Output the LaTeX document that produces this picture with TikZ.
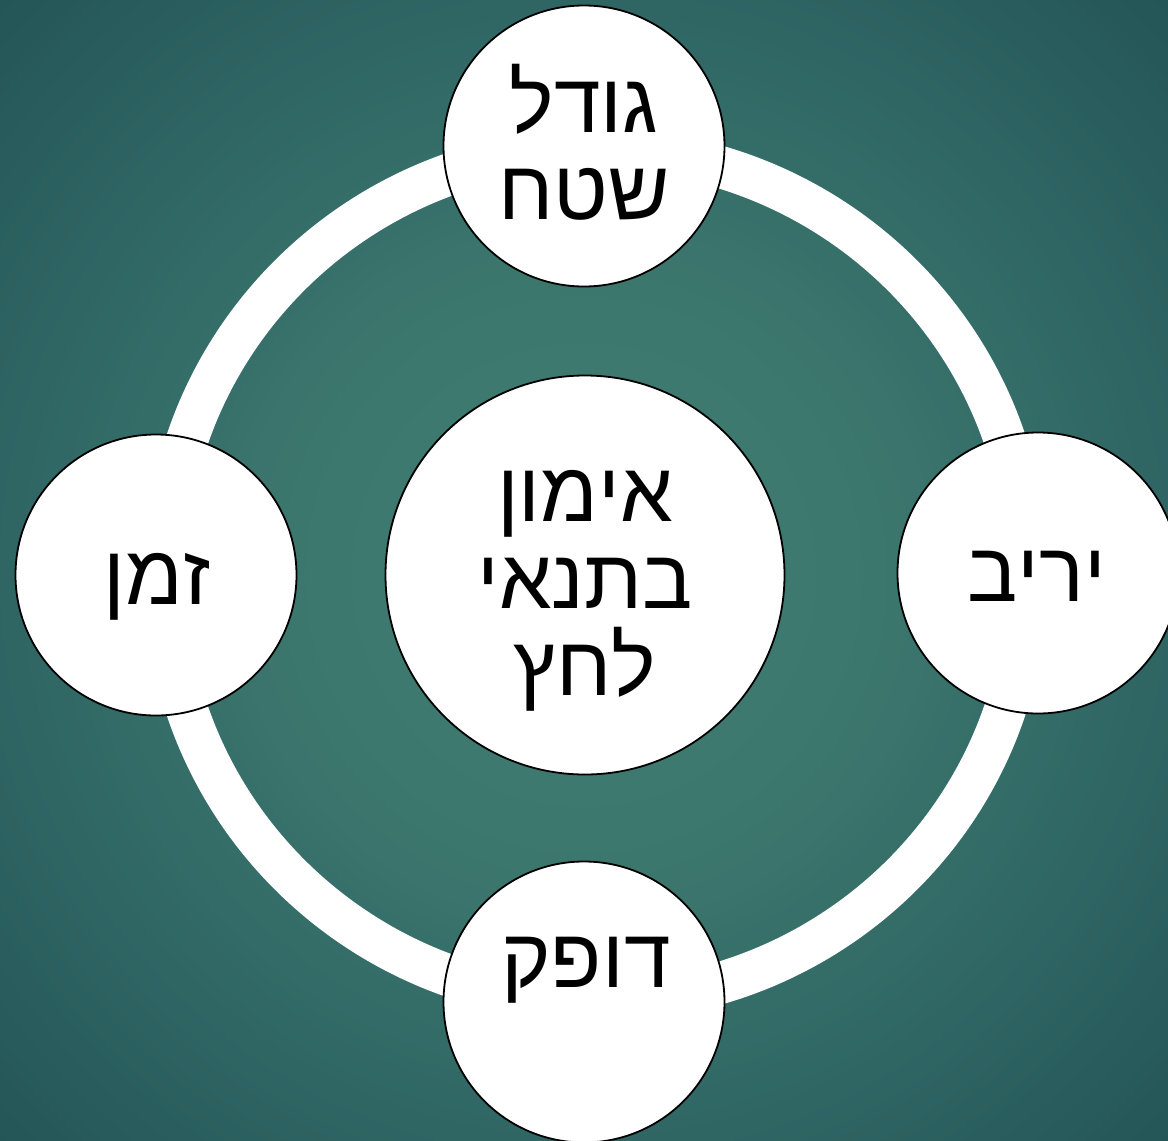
\documentclass[tikz,border=0pt]{standalone}
\usepackage{fontspec}
\setmainfont{Liberation Sans}
\TeXXeTstate=1
\definecolor{bgin}{RGB}{63,124,114}
\definecolor{bgnear}{RGB}{61,120,110}
\definecolor{bgmid}{RGB}{47,102,100}
\definecolor{bgout}{RGB}{36,85,87}
\begin{document}
\begin{tikzpicture}[x=1pt,y=-1pt,
  bubble/.style={circle, draw=black, line width=1.8pt, fill=white, inner sep=0pt},
  sat/.style={bubble, minimum size=281pt},
  hub/.style={bubble, minimum size=399pt},
  heb/.style={inner sep=0pt, font=\fontsize{84}{87}\selectfont, align=center, text=black},
  ringline/.style={draw=white, line width=42pt}]
\useasboundingbox (0,0) rectangle (1168,1141);
\begin{scope}
  \clip (0,0) rectangle (1168,1141);
  \coordinate (bgc) at (584,575);
  \fill[bgout] (0,0) rectangle (1168,1141);
  \foreach \s in {0,...,23} {
    \pgfmathsetmacro{\rr}{830-(830-574)*\s/24}
    \pgfmathsetmacro{\pp}{100-100*\s/24}
    \fill[bgout!\pp!bgmid] (bgc) circle [radius=\rr pt];
  }
  \foreach \s in {0,...,23} {
    \pgfmathsetmacro{\rr}{574-(574-279)*\s/24}
    \pgfmathsetmacro{\pp}{100-100*\s/24}
    \fill[bgmid!\pp!bgnear] (bgc) circle [radius=\rr pt];
  }
  \foreach \s in {0,...,11} {
    \pgfmathsetmacro{\rr}{279-279*\s/12}
    \pgfmathsetmacro{\pp}{100-100*\s/12}
    \fill[bgnear!\pp!bgin] (bgc) circle [radius=\rr pt];
  }
\end{scope}
\coordinate (ringc) at (596,575);
\draw[ringline] (ringc) ellipse [x radius=431pt, y radius=426pt];
\node[hub] (hub) at (585,575) {};
\node[sat] (top) at (584,146) {};
\node[sat] (bottom) at (584,1002) {};
\node[sat] (left) at (156,575) {};
\node[sat] (right) at (1038,573) {};
\node[heb] (thub) at (585,591) {\beginR אימון\endR\\\beginR בתנאי\endR\\\beginR לחץ\endR};
\node[heb] (ttop) at (584,142) {\beginR גודל\endR\\\beginR שטח\endR};
\node[heb] (tright) at (1037,576) {\beginR יריב\endR};
\node[heb] (tleft) at (157,587) {\beginR זמן\endR};
\node[heb] (tbottom) at (586,970) {\beginR דופק\endR};
\end{tikzpicture}
\end{document}
